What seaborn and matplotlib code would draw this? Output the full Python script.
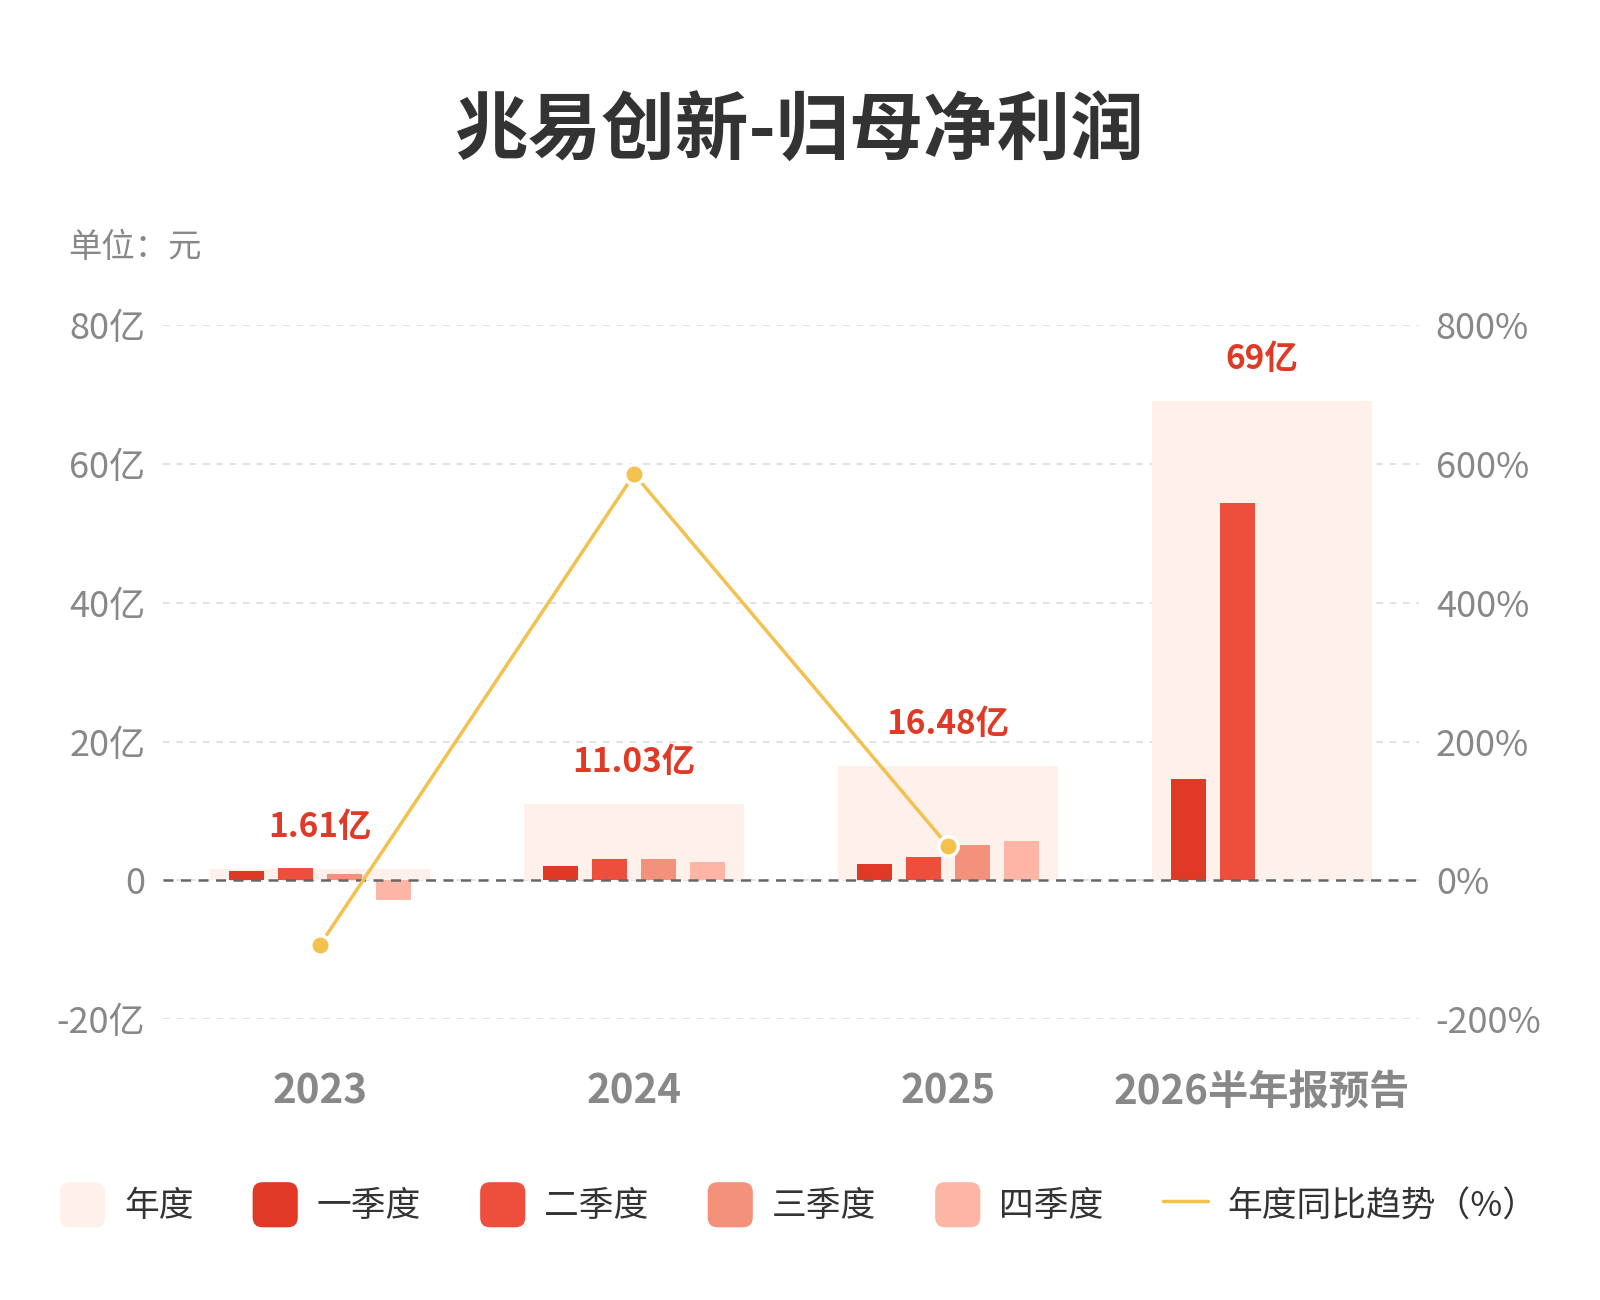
import numpy as np
import pandas as pd
import matplotlib
matplotlib.use("Agg")
import matplotlib.pyplot as plt
import seaborn as sns
from matplotlib.patches import Patch, FancyBboxPatch
from matplotlib.lines import Line2D
from matplotlib.legend_handler import HandlerPatch

# 数据（单位：亿元）
years = ['2023', '2024', '2025', '2026半年报预告']
annual = [1.61, 11.03, 16.48, 69]
q1 = [1.40, 2.07, 2.36, 14.6]
q2 = [1.73, 3.12, 3.41, 54.3]
q3 = [0.86, 3.12, 5.09, np.nan]
q4 = [-2.78, 2.69, 5.61, np.nan]
yoy = [-92.5, 585.1, 49.4]  # 年度同比 %
quarter_names = ['一季度', '二季度', '三季度', '四季度']
value_labels = ['1.61亿', '11.03亿', '16.48亿', '69亿']
left_ticks = [-20, 0, 20, 40, 60, 80]
right_ticks = [-200, 0, 200, 400, 600, 800]

# 颜色
c_year = '#FEF0EB'
c_q = ['#E03A26', '#EE4E3C', '#F4917A', '#FDB5A5']
c_line = '#F2C14E'
c_grey = '#888888'

sns.set_style('white')
plt.rcParams['font.family'] = ['Noto Sans CJK SC', 'DejaVu Sans']

fig = plt.figure(figsize=(16, 13), dpi=100)
ax = fig.add_axes([0.102, 0.216, 0.785, 0.534])

# 年度背景柱
df_year = pd.DataFrame({'年份': years, '净利润': annual})
sns.barplot(data=df_year, x='年份', y='净利润', color=c_year, width=0.7,
            saturation=1, errorbar=None, linewidth=0, ax=ax, zorder=1)

# 季度柱
df_q = pd.DataFrame({
    '年份': np.repeat(years, 4),
    '季度': quarter_names * 4,
    '净利润': np.column_stack([q1, q2, q3, q4]).ravel(),
}).dropna()
sns.barplot(data=df_q, x='年份', y='净利润', hue='季度', hue_order=quarter_names,
            palette=c_q, width=0.625, gap=0.29, saturation=1, errorbar=None,
            linewidth=0, legend=False, ax=ax, zorder=3)

ax.set_xlim(-0.5, 3.5)
ax.set_ylim(-20, 80)
ax.set_yticks(left_ticks)
ax.set_yticklabels([f'{v}亿' if v != 0 else '0' for v in left_ticks])
ax.yaxis.grid(True, ls=(0, (4, 4)), color='#DDDDDD', lw=1.2, zorder=0)
ax.set_axisbelow(True)
ax.axhline(0, color='#666666', ls=(0, (4, 3)), lw=1.8, zorder=4)
ax.tick_params(axis='y', length=0, labelsize=26, labelcolor=c_grey, pad=13)
ax.tick_params(axis='x', length=0, labelsize=29, labelcolor=c_grey, pad=38)
for lab in ax.get_xticklabels():
    lab.set_fontweight('bold')
ax.set_xlabel('')
ax.set_ylabel('')
for s in ax.spines.values():
    s.set_visible(False)

# 年度数值标签
for i, (v, lab) in enumerate(zip(annual, value_labels)):
    ax.annotate(lab, (i, v), xytext=(0, 30), textcoords='offset points',
                ha='center', va='center', fontsize=24, fontweight='bold',
                color='#E03A26', zorder=6)

# 同比折线（右轴）
ax2 = ax.twinx()
sns.lineplot(x=[0, 1, 2], y=yoy, ax=ax2, color=c_line, lw=2.5, marker='o',
             markersize=14, markeredgecolor='white', markeredgewidth=2.5, zorder=5)
ax2.set_ylim(-200, 800)
ax2.set_yticks(right_ticks)
ax2.set_yticklabels([f'{v}%' for v in right_ticks])
ax2.tick_params(axis='y', length=0, labelsize=26, labelcolor=c_grey, pad=12)
ax2.set_ylabel('')
for s in ax2.spines.values():
    s.set_visible(False)

# 标题与单位
fig.text(0.5, 0.898, '兆易创新-归母净利润', ha='center', va='center',
         fontsize=53, fontweight='bold', color='#333333')
fig.text(0.0425, 0.81, '单位：元', ha='left', va='center', fontsize=24, color=c_grey)


# 圆角图例
class RoundHandler(HandlerPatch):
    def create_artists(self, legend, orig_handle, xdescent, ydescent,
                       width, height, fontsize, trans):
        side = width
        y0 = -ydescent + (height - side) / 2
        p = FancyBboxPatch((-xdescent, y0), width, side,
                           boxstyle=f'round,pad=0,rounding_size={side * 0.22}',
                           facecolor=orig_handle.get_facecolor(),
                           edgecolor='none', transform=trans)
        return [p]


handles = [Patch(facecolor=c_year, label='年度')]
handles += [Patch(facecolor=c, label=n) for c, n in zip(c_q, quarter_names)]
handles += [Line2D([0], [0], color=c_line, lw=2.5, label='年度同比趋势（%）')]
fig.legend(handles=handles, loc='center', bbox_to_anchor=(0.499, 0.073), ncol=6,
           frameon=False, fontsize=25, handlelength=1.3, handleheight=1.3,
           handletextpad=0.55, columnspacing=1.7, labelcolor='#333333',
           handler_map={Patch: RoundHandler()})

plt.savefig('out.png', dpi=100)
